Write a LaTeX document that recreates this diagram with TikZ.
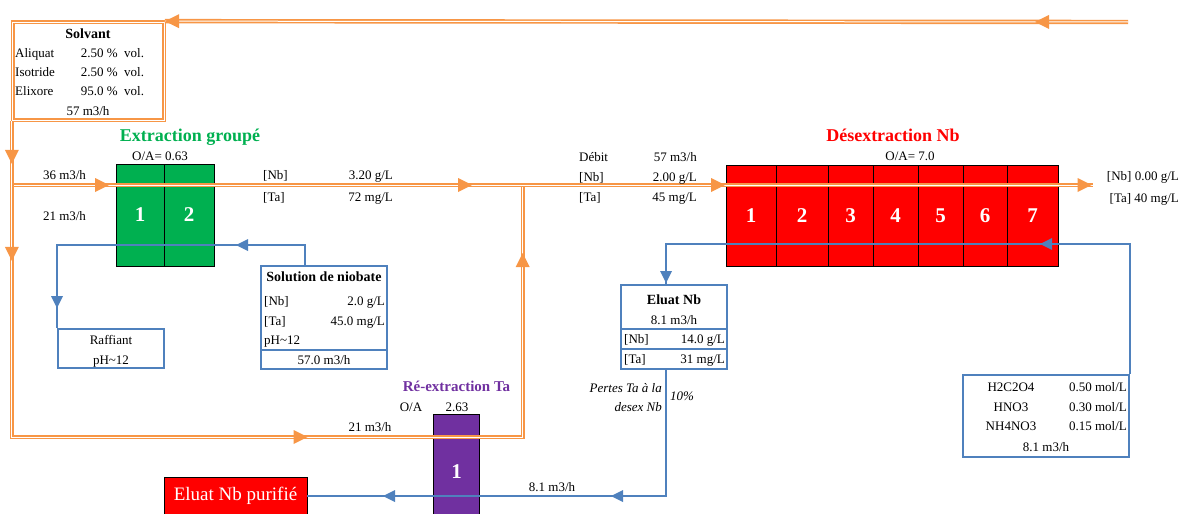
\documentclass[tikz,border=0pt]{standalone}
\usepackage{fontspec}
\setmainfont{Liberation Serif}
\usetikzlibrary{decorations.markings,calc}
\definecolor{oline}{HTML}{F79646}
\definecolor{bline}{HTML}{4F81BD}
\definecolor{gbox}{HTML}{00B050}
\definecolor{rbox}{HTML}{FF0000}
\definecolor{pbox}{HTML}{7030A0}
\newcommand\myOArrow{\fill[oline] (-14pt,-7pt) -- (0pt,0pt) -- (-14pt,7pt) -- cycle;}
\newcommand\myBArrow{\fill[bline] (-12pt,-6pt) -- (0pt,0pt) -- (-12pt,6pt) -- cycle;}
\tikzset{
  lbl/.style={font=\fontsize{13}{15}\selectfont, text height=10.5pt, text depth=2pt, inner sep=0pt},
  ttl/.style={font=\fontsize{14}{16}\selectfont\bfseries, text height=11pt, text depth=2pt, inner sep=0pt},
  big/.style={font=\fontsize{18}{20}\selectfont\bfseries, text height=14pt, text depth=2pt, inner sep=0pt},
  itl/.style={lbl, font=\fontsize{13}{15}\selectfont\itshape},
  cellbox/.style={draw=black, line width=0.8pt, text=white, font=\fontsize{21}{24}\selectfont\bfseries, inner sep=0pt},
  gcell/.style={cellbox, fill=gbox},
  rcell/.style={cellbox, fill=rbox},
  pcell/.style={cellbox, fill=pbox},
  bbox/.style={draw=bline, line width=2pt, inner sep=0pt},
  oflow/.style={draw=oline, line width=1.7pt, double=white, double distance=1.0pt},
  bflow/.style={draw=bline, line width=2.2pt},
}
\begin{document}
\begin{tikzpicture}[x=1pt,y=-1pt]
\useasboundingbox (0,0) rectangle (1184,514);

% ---------- process boxes ----------
\node[gcell, minimum width=48pt, minimum height=102pt] (e1) at (140,215) {1};
\node[gcell, minimum width=50pt, minimum height=102pt] (e2) at (189,215) {2};

\node[rcell, minimum width=50pt, minimum height=101pt] (d1) at (751,215.5) {1};
\node[rcell, minimum width=52pt, minimum height=101pt] (d2) at (802,215.5) {2};
\node[rcell, minimum width=45pt, minimum height=101pt] (d3) at (850.5,215.5) {3};
\node[rcell, minimum width=45pt, minimum height=101pt] (d4) at (895.5,215.5) {4};
\node[rcell, minimum width=45pt, minimum height=101pt] (d5) at (940.5,215.5) {5};
\node[rcell, minimum width=44pt, minimum height=101pt] (d6) at (985,215.5) {6};
\node[rcell, minimum width=51pt, minimum height=101pt] (d7) at (1032.5,215.5) {7};

\node[pcell, minimum width=46pt, minimum height=116pt] (r1) at (456.5,472) {1};

\node[rcell, minimum width=143pt, minimum height=38pt, font=\fontsize{19}{21}\selectfont] (purif) at (235.5,496) {Eluat Nb purifié};

% ---------- info boxes ----------
\node[oflow, minimum width=151.3pt, minimum height=98pt] (solv) at (88.35,71) {};
\node[bbox, minimum width=106pt, minimum height=39pt] (raff) at (111,348.5) {};
\node[bbox, minimum width=126pt, minimum height=103pt] (sol) at (324,317.5) {};
\draw[bline, line width=2pt] (sol.west |- 0,350) -- (sol.east |- 0,350);
\node[bbox, minimum width=106pt, minimum height=84pt] (elu) at (674,327) {};
\draw[bline, line width=2pt] (elu.west |- 0,329) -- (elu.east |- 0,329);
\draw[bline, line width=2pt] (elu.west |- 0,349) -- (elu.east |- 0,349);
\node[bbox, minimum width=166pt, minimum height=82pt] (acid) at (1046,416) {};

% ---------- coordinates ----------
\coordinate (topR) at (1128,22);
\coordinate (cBL) at (solv.south west |- 0,437);
\coordinate (cBR) at (522.7,437);
\coordinate (jct) at (522.7,185);
\coordinate (jL) at ($(solv.south west |- 0,185)+(2.2,0)$);
\coordinate (rEnd) at (1093,185);
\coordinate (sTop) at ($(sol.north west)+(45,0)$);
\coordinate (b1) at (sTop |- 0,245);
\coordinate (b2) at (raff.north west |- 0,245);
\coordinate (aTop) at (acid.north east);
\coordinate (b3) at (aTop |- 0,244);
\coordinate (eTop) at ($(elu.north west)+(46,0)$);
\coordinate (b4) at (eTop |- 0,244);
\coordinate (eBot) at ($(elu.south west)+(46,0)$);
\coordinate (b5) at (eBot |- 0,496);

% ---------- orange (solvent) flows ----------
\draw[oflow] (topR) -- (solv.north east);
\path[decorate, decoration={markings,
   mark=at position 93pt with {\myOArrow},
   mark=at position 963pt with {\myOArrow}}] (topR) -- (solv.north east);

\draw[oflow] (solv.south west) -- (cBL) -- (cBR) -- (jct);
\path[decorate, decoration={markings,
   mark=at position 43pt with {\myOArrow},
   mark=at position 140pt with {\myOArrow},
   mark=at position 612pt with {\myOArrow},
   mark=at position 1011pt with {\myOArrow}}] (solv.south west) -- (cBL) -- (cBR) -- (jct);

\draw[oflow] (jL) -- (rEnd);
\path[decorate, decoration={markings,
   mark=at position 95pt with {\myOArrow},
   mark=at position 458pt with {\myOArrow},
   mark=at position 711pt with {\myOArrow},
   mark=at position 1077.5pt with {\myOArrow}}] (jL) -- (rEnd);

% ---------- blue (aqueous) flows ----------
\draw[bflow] (sTop) -- (b1) -- (b2) -- (raff.north west);
\path[decorate, decoration={markings,
   mark=at position 89pt with {\myBArrow},
   mark=at position 331pt with {\myBArrow}}] (sTop) -- (b1) -- (b2) -- (raff.north west);

\draw[bflow] (aTop) -- (b3) -- (b4) -- (eTop);
\path[decorate, decoration={markings,
   mark=at position 220pt with {\myBArrow},
   mark=at position 633pt with {\myBArrow}}] (aTop) -- (b3) -- (b4) -- (eTop);

\draw[bflow] (eBot) -- (b5) -- (purif.east);
\path[decorate, decoration={markings,
   mark=at position 181pt with {\myBArrow},
   mark=at position 409pt with {\myBArrow}}] (eBot) -- (b5) -- (purif.east);

% ---------- texts: solvant ----------
\node[ttl] (tsolv) at (88,34) {Solvant};
\node[lbl, anchor=west] (s1a) at (15,53) {Aliquat};
\node[lbl, anchor=east] (s1b) at (118,53) {2.50 \%};
\node[lbl, anchor=west] (s1c) at (124,53) {vol.};
\node[lbl, anchor=west] (s2a) at (15,72) {Isotride};
\node[lbl, anchor=east] (s2b) at (118,72) {2.50 \%};
\node[lbl, anchor=west] (s2c) at (124,72) {vol.};
\node[lbl, anchor=west] (s3a) at (15,91) {Elixore};
\node[lbl, anchor=east] (s3b) at (118,91) {95.0 \%};
\node[lbl, anchor=west] (s3c) at (124,91) {vol.};
\node[lbl] (s4) at (88,111) {57 m3/h};

% ---------- texts: extraction ----------
\node[big, text=gbox] (text) at (190,135) {Extraction groupé};
\node[lbl] (toa1) at (160,156) {O/A= 0.63};
\node[lbl] (f36) at (64.5,175) {36 m3/h};
\node[lbl] (f21) at (64.5,216) {21 m3/h};
\node[lbl, anchor=west] (x1a) at (263,175) {[Nb]};
\node[lbl, anchor=east] (x1b) at (393,175) {3.20 g/L};
\node[lbl, anchor=west] (x2a) at (263,197) {[Ta]};
\node[lbl, anchor=east] (x2b) at (393,197) {72 mg/L};

% raffiant
\node[lbl] (ra1) at (111,340) {Raffiant};
\node[lbl] (ra2) at (111,360) {pH\textasciitilde12};

% solution de niobate
\node[ttl] (so0) at (324,277) {Solution de niobate};
\node[lbl, anchor=west] (so1a) at (264,301) {[Nb]};
\node[lbl, anchor=east] (so1b) at (385,301) {2.0 g/L};
\node[lbl, anchor=west] (so2a) at (264,321) {[Ta]};
\node[lbl, anchor=east] (so2b) at (385,321) {45.0 mg/L};
\node[lbl, anchor=west] (so3) at (264,340) {pH\textasciitilde12};
\node[lbl] (so4) at (324,360) {57.0 m3/h};

% ---------- texts: middle ----------
\node[lbl, anchor=west] (m1a) at (579,157) {Débit};
\node[lbl, anchor=east] (m1b) at (697,157) {57 m3/h};
\node[lbl, anchor=west] (m2a) at (579,177) {[Nb]};
\node[lbl, anchor=east] (m2b) at (697,177) {2.00 g/L};
\node[lbl, anchor=west] (m3a) at (579,197) {[Ta]};
\node[lbl, anchor=east] (m3b) at (697,197) {45 mg/L};

% ---------- texts: desextraction ----------
\node[big, text=rbox] (tdes) at (893,135) {Désextraction Nb};
\node[lbl] (toa2) at (910,156) {O/A= 7.0};
\node[lbl, anchor=east] (o1) at (1179,176) {[Nb] 0.00 g/L};
\node[lbl, anchor=east] (o2) at (1179,198) {[Ta] 40 mg/L};

% eluat Nb
\node[ttl] (el0) at (674,300) {Eluat Nb};
\node[lbl] (el1) at (674,320) {8.1 m3/h};
\node[lbl, anchor=west] (el2a) at (624,339) {[Nb]};
\node[lbl, anchor=east] (el2b) at (725,339) {14.0 g/L};
\node[lbl, anchor=west] (el3a) at (624,359) {[Ta]};
\node[lbl, anchor=east] (el3b) at (725,359) {31 mg/L};

% acid
\node[lbl] (ac1a) at (1011,387) {H2C2O4};
\node[lbl, anchor=east] (ac1b) at (1127,387) {0.50 mol/L};
\node[lbl] (ac2a) at (1011,407) {HNO3};
\node[lbl, anchor=east] (ac2b) at (1127,407) {0.30 mol/L};
\node[lbl] (ac3a) at (1011,426) {NH4NO3};
\node[lbl, anchor=east] (ac3b) at (1127,426) {0.15 mol/L};
\node[lbl] (ac4) at (1046,447) {8.1 m3/h};

% pertes
\node[itl, anchor=east] (p1) at (662,388) {Pertes Ta à la};
\node[itl, anchor=east] (p2) at (662,407) {desex Nb};
\node[itl, anchor=west] (p3) at (670,396) {10\%};

% ---------- texts: re-extraction ----------
\node[font=\fontsize{15}{17}\selectfont\bfseries, text=pbox, text height=11.5pt, text depth=2pt, inner sep=0pt] (tre) at (456.5,387) {Ré-extraction Ta};
\node[lbl] (toa3a) at (411,407) {O/A};
\node[lbl] (toa3b) at (457,407) {2.63};
\node[lbl] (f21b) at (370,427) {21 m3/h};
\node[lbl] (f81) at (552,487) {8.1 m3/h};
\end{tikzpicture}
\end{document}
